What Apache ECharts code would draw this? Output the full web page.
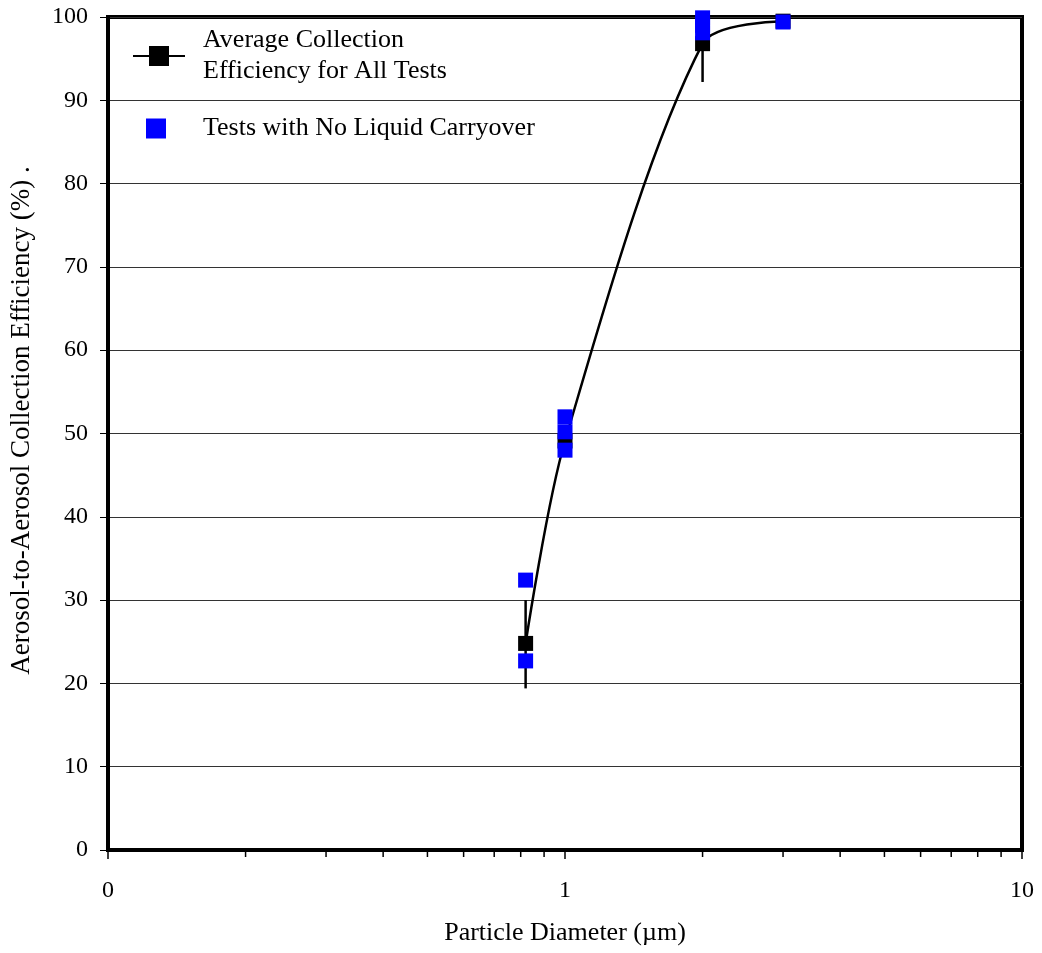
<!DOCTYPE html>
<html>
<head>
<meta charset="utf-8">
<script src="https://cdn.jsdelivr.net/npm/echarts@6/dist/echarts.min.js"></script>
<style>html,body{margin:0;padding:0;background:#fff}#c{width:1042px;height:953px}</style>
</head>
<body>
<div id="c"></div>
<script>
// Average collection efficiency (all tests)
const avgX = [0.82, 1, 2, 3];
const avgY = [24.8, 49.1, 96.8, 99.5];
const errLow = [19.4, 47.8, 92.2, 99.0];
const errHigh = [30.0, 50.5, 100, 100];
// Tests with no liquid carryover
const blueX = [0.82, 0.82, 1, 1, 1, 2, 2, 2, 3];
const blueY = [32.4, 22.7, 52.0, 50.2, 48.0, 99.9, 99.0, 98.1, 99.4];
// Axis ticks
const yTicks = [0, 10, 20, 30, 40, 50, 60, 70, 80, 90, 100];
const xMinorTicks = [0.2, 0.3, 0.4, 0.5, 0.6, 0.7, 0.8, 0.9, 2, 3, 4, 5, 6, 7, 8, 9];

const nameAvg = 'Average Collection\nEfficiency for All Tests';
const nameBlue = 'Tests with No Liquid Carryover';
const FONT = '"Liberation Serif", "Times New Roman", serif';

const chart = echarts.init(document.getElementById('c'));
chart.setOption({
  animation: false,
  backgroundColor: '#fff',
  textStyle: { fontFamily: FONT, color: '#000' },
  grid: { left: 108, right: 20, top: 17, bottom: 103, show: true, borderColor: '#000', borderWidth: 4, containLabel: false },
  legend: [
    {
      data: [nameAvg], orient: 'vertical', left: 127, top: 20,
      itemWidth: 52, itemHeight: 25,
      textStyle: { fontFamily: FONT, fontSize: 26, color: '#000', lineHeight: 31, padding: [0, 0, 0, 13] },
      selectedMode: false
    },
    {
      data: [nameBlue], orient: 'vertical', left: 141, top: 108,
      itemWidth: 20, itemHeight: 20,
      textStyle: { fontFamily: FONT, fontSize: 26, color: '#000', lineHeight: 31, padding: [0, 0, 0, 32] },
      selectedMode: false
    }
  ],
  xAxis: {
    type: 'log', logBase: 10, min: 0.1, max: 10,
    name: 'Particle Diameter (µm)', nameLocation: 'middle', nameGap: 70, nameMoveOverlap: false,
    nameTextStyle: { fontFamily: FONT, fontSize: 26, color: '#000' },
    axisLine: { show: true, lineStyle: { color: '#000', width: 4 } },
    axisTick: { show: true, length: 9, lineStyle: { color: '#000', width: 1.5 } },
    axisLabel: { fontFamily: FONT, fontSize: 24, color: '#000', margin: 29, formatter: v => (v < 1 ? '0' : String(Math.round(v))) },
    splitLine: { show: false }
  },
  yAxis: {
    type: 'value', min: 0, max: 100, interval: 10,
    name: 'Aerosol-to-Aerosol Collection Efficiency (%) .', nameLocation: 'middle', nameGap: 73,
    nameTextStyle: { fontFamily: FONT, fontSize: 27, color: '#000', padding: [0, 0, 0, 26] },
    axisLine: { show: true, lineStyle: { color: '#000', width: 4 } },
    axisTick: { show: true, length: 8, lineStyle: { color: '#000', width: 1 } },
    axisLabel: { fontFamily: FONT, fontSize: 24, color: '#000', margin: 20,
      formatter: v => (yTicks.indexOf(v) >= 0 ? String(v) : '') },
    splitLine: { show: true, lineStyle: { color: '#333', width: 1 } }
  },
  series: [
    {
      name: 'minorTicks', type: 'custom', silent: true, clip: false, z: 5,
      data: xMinorTicks.map(v => [v, 0]),
      renderItem: (params, api) => {
        const p = api.coord([api.value(0), 0]);
        return { type: 'line', shape: { x1: p[0], y1: p[1], x2: p[0], y2: p[1] + 7 }, style: { stroke: '#000', lineWidth: 1.5 } };
      }
    },
    {
      name: 'errors', type: 'custom', silent: true, z: 2,
      data: avgX.map((x, i) => [x, errLow[i], errHigh[i]]),
      renderItem: (params, api) => {
        const a = api.coord([api.value(0), api.value(1)]);
        const b = api.coord([api.value(0), api.value(2)]);
        return { type: 'line', shape: { x1: a[0], y1: a[1], x2: b[0], y2: b[1] }, style: { stroke: '#000', lineWidth: 2.5 } };
      }
    },
    {
      name: nameAvg, type: 'line', z: 3,
      data: avgX.map((x, i) => [x, avgY[i]]),
      smooth: 0.3,
      symbol: 'rect', symbolSize: 15,
      itemStyle: { color: '#000' },
      lineStyle: { color: '#000', width: 2.5 }
    },
    {
      name: nameBlue, type: 'scatter', z: 4, clip: false,
      data: blueX.map((x, i) => [x, blueY[i]]),
      symbol: 'rect', symbolSize: 15,
      itemStyle: { color: '#0000ff', opacity: 1 }
    }
  ]
});
</script>
</body>
</html>
